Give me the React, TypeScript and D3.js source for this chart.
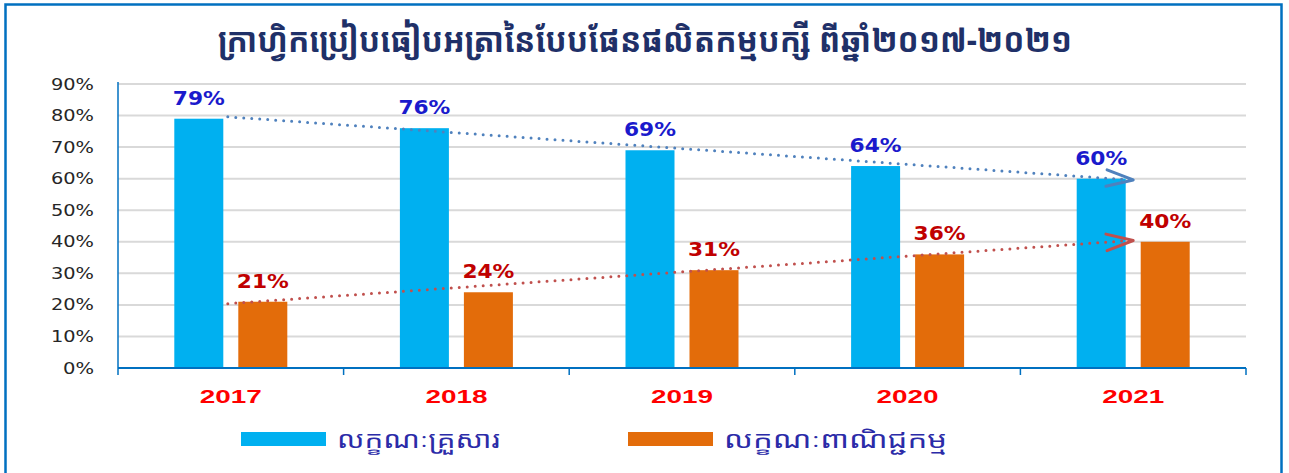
import React from "react";
import * as d3 from "d3";

const categories = ["2017", "2018", "2019", "2020", "2021"];
const householdValues = [0.79, 0.76, 0.69, 0.64, 0.6];
const commercialValues = [0.21, 0.24, 0.31, 0.36, 0.4];
const yTicks = [0, 0.1, 0.2, 0.3, 0.4, 0.5, 0.6, 0.7, 0.8, 0.9];
const seriesNames = ["លក្ខណៈគ្រួសារ", "លក្ខណៈពាណិជ្ជកម្ម"];
const title = "ក្រាហ្វិកប្រៀបធៀបអត្រានៃបែបផែនផលិតកម្មបក្សី ពីឆ្នាំ២០១៧-២០២១";

const W = 1289;
const H = 473;
const PL = 118, PR = 1246, PT = 84, PB = 368;

const BLUE = "#00b0f0";
const ORANGE = "#e36c0a";
const AXIS = "#0070c0";

function linFit(vals: number[]) {
  const n = vals.length;
  const xs = vals.map((_, i) => i);
  const mx = d3.mean(xs)!;
  const my = d3.mean(vals)!;
  let num = 0, den = 0;
  xs.forEach((x, i) => { num += (x - mx) * (vals[i] - my); den += (x - mx) ** 2; });
  const b = num / den;
  const a = my - b * mx;
  return [a, a + b * (n - 1)];
}

export default function App() {
  const x = d3.scaleBand<string>().domain(categories).range([PL, PR]).paddingInner(0).paddingOuter(0);
  const sub = d3.scaleBand<string>().domain(["h", "c"]).range([-56.5, 56.5]).paddingInner(15 / 64).paddingOuter(0);
  const y = d3.scaleLinear().domain([0, 0.9]).range([PB, PT]);
  const cx = (c: string) => x(c)! + x.bandwidth() / 2;
  const fmt = d3.format(".0%");

  const trends = [
    { vals: householdValues, color: "#4f81bd" },
    { vals: commercialValues, color: "#c0504d" },
  ].map((t) => {
    const [y0v, y1v] = linFit(t.vals);
    const x0 = cx(categories[0]) - 3;
    const x1 = cx(categories[categories.length - 1]);
    const p0 = [x0, y(y0v)];
    const p1 = [x1, y(y1v)];
    const ang = Math.atan2(p1[1] - p0[1], p1[0] - p0[0]);
    const L = 28, a = 0.3;
    const arm1 = [p1[0] - L * Math.cos(ang - a), p1[1] - L * Math.sin(ang - a)];
    const arm2 = [p1[0] - L * Math.cos(ang + a), p1[1] - L * Math.sin(ang + a)];
    return { p0, p1, arm1, arm2, color: t.color };
  });

  const yLabelLen = (s: string) => (s.length === 2 ? 31 : 43);
  const legendLens = [163, 223];

  return (
    <svg width={W} height={H} style={{ position: "absolute", left: 0, top: 0, background: "#fff" }}>
      <rect x={0} y={0} width={W} height={H} fill="#fff" />
      {/* frame */}
      <path d={`M5.5,${H + 5} L5.5,4.5 L1281.5,4.5 L1281.5,${H + 5}`} fill="none" stroke={AXIS} strokeWidth={2.5} />

      {/* title */}
      <text x={645} y={52} textAnchor="middle" fill="#1f3068" fontSize={34} fontWeight="bold"
        fontFamily="'Khmer OS', 'Noto Sans Khmer', 'DejaVu Sans', sans-serif" textLength={854} lengthAdjust="spacingAndGlyphs">{title}</text>

      {/* gridlines */}
      {yTicks.filter((t) => t > 0).map((t) => (
        <line key={t} x1={PL} x2={PR} y1={y(t)} y2={y(t)} stroke="#d9d9d9" strokeWidth={2} />
      ))}

      {/* y labels */}
      {yTicks.map((t) => {
        const s = fmt(t);
        return (
          <text key={t} x={94} y={y(t) + 5.5} textAnchor="end" fontSize={15} fill="#262626"
            fontFamily="'DejaVu Sans', Verdana, sans-serif" textLength={yLabelLen(s)} lengthAdjust="spacingAndGlyphs">{s}</text>
        );
      })}

      {/* bars */}
      {categories.map((c, i) => (
        <g key={c}>
          <rect x={cx(c) + sub("h")!} y={y(householdValues[i])} width={sub.bandwidth()} height={PB - y(householdValues[i])} fill={BLUE} />
          <rect x={cx(c) + sub("c")!} y={y(commercialValues[i])} width={sub.bandwidth()} height={PB - y(commercialValues[i])} fill={ORANGE} />
        </g>
      ))}

      {/* axes */}
      <line x1={PL} x2={PL} y1={PT - 2} y2={PB + 7} stroke={AXIS} strokeWidth={1.5} />
      <line x1={PL} x2={PR} y1={PB} y2={PB} stroke={AXIS} strokeWidth={2} />
      {categories.map((c) => (
        <line key={c} x1={x(c)! + x.bandwidth()} x2={x(c)! + x.bandwidth()} y1={PB} y2={PB + 7} stroke={AXIS} strokeWidth={1.5} />
      ))}

      {/* trend lines */}
      {trends.map((t, i) => (
        <g key={i}>
          <line x1={t.p0[0]} y1={t.p0[1]} x2={t.p1[0] - 3} y2={t.p1[1]} stroke={t.color} strokeWidth={3} strokeDasharray="0 8" strokeLinecap="round" />
          <polyline points={`${t.arm1[0]},${t.arm1[1]} ${t.p1[0]},${t.p1[1]} ${t.arm2[0]},${t.arm2[1]}`} fill="none" stroke={t.color} strokeWidth={3} strokeLinecap="round" strokeLinejoin="round" />
        </g>
      ))}

      {/* value labels */}
      {categories.map((c, i) => (
        <g key={c}>
          <text x={cx(c) + sub("h")! + sub.bandwidth() / 2} y={y(householdValues[i]) - 14} textAnchor="middle" fontSize={19} fontWeight="bold"
            fill="#1a1acc" fontFamily="'DejaVu Sans', Verdana, sans-serif" textLength={52} lengthAdjust="spacingAndGlyphs">{fmt(householdValues[i])}</text>
          <text x={cx(c) + sub("c")! + sub.bandwidth() / 2} y={y(commercialValues[i]) - 14} textAnchor="middle" fontSize={19} fontWeight="bold"
            fill="#c00000" fontFamily="'DejaVu Sans', Verdana, sans-serif" textLength={52} lengthAdjust="spacingAndGlyphs">{fmt(commercialValues[i])}</text>
        </g>
      ))}

      {/* x labels */}
      {categories.map((c) => (
        <text key={c} x={cx(c)} y={403} textAnchor="middle" fontSize={18} fontWeight="bold" fill="#ff0000"
          fontFamily="'Liberation Sans', Arial, sans-serif" textLength={62} lengthAdjust="spacingAndGlyphs">{c}</text>
      ))}

      {/* legend */}
      {[BLUE, ORANGE].map((col, i) => {
        const lx = i === 0 ? 241 : 628;
        return (
          <g key={i}>
            <rect x={lx} y={432} width={85} height={14} fill={col} />
            <text x={lx + 96} y={448} fontSize={24} fill="#2b2ba8"
              fontFamily="'Khmer OS', 'Noto Sans Khmer', 'DejaVu Sans', sans-serif" textLength={legendLens[i]} lengthAdjust="spacingAndGlyphs">{seriesNames[i]}</text>
          </g>
        );
      })}
    </svg>
  );
}
